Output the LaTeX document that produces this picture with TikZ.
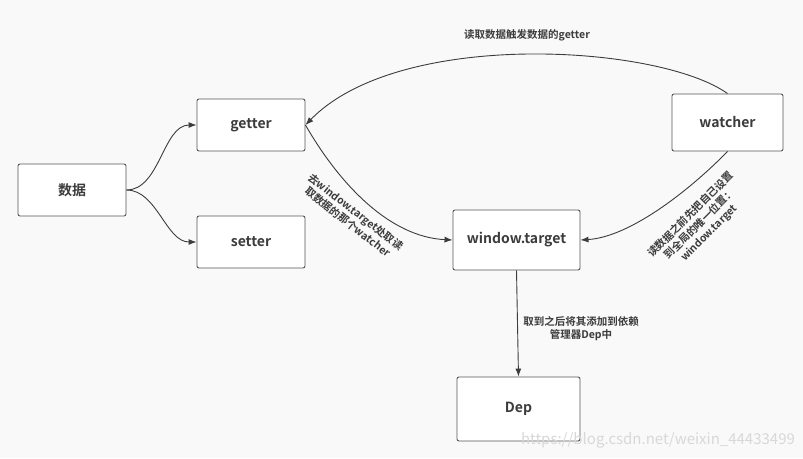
\documentclass[tikz,border=0pt]{standalone}
\usepackage{fontspec}
\setmainfont{Noto Sans CJK SC}[BoldFont={Noto Sans CJK SC Bold}]
\usetikzlibrary{arrows.meta}
\definecolor{bg}{HTML}{F9F9F9}
\definecolor{ink}{HTML}{3C3C3C}
\definecolor{edge}{HTML}{555555}
\definecolor{wm}{HTML}{D8D8D8}
\tikzset{
  box/.style={draw=edge, fill=white, line width=0.9pt, rounded corners=2pt,
    font=\bfseries\fontsize{14}{16}\selectfont, text=ink, inner sep=0pt},
  conn/.style={draw=ink, line width=0.9pt, -{Latex[length=8pt,width=6pt]}},
  lbl/.style={font=\bfseries\fontsize{10.5}{13}\selectfont, text=ink, align=center, inner sep=0pt},
}
\begin{document}
\begin{tikzpicture}[x=1pt,y=-1pt]
\fill[bg] (0,0) rectangle (803,458);
\useasboundingbox (0,0) rectangle (803,458);
\node[box, minimum width=108pt, minimum height=52pt] (data) at (72,190) {数据};
\node[box, minimum width=108pt, minimum height=52pt] (getter) at (251,125) {getter};
\node[box, minimum width=108pt, minimum height=52pt] (setter) at (251,242) {setter};
\node[box, minimum width=127pt, minimum height=60pt] (wt) at (516.5,240) {window.target};
\node[box, minimum width=111pt, minimum height=57pt] (watcher) at (727.5,122.5) {watcher};
\node[box, minimum width=123pt, minimum height=64pt] (dep) at (518.5,409) {Dep};

\draw[conn] (data.east) to[out=0,in=180,looseness=0.9] (getter.west);
\draw[conn] (data.east) to[out=0,in=180,looseness=0.9] (setter.west);
\draw[conn] (watcher.north) .. controls (660,45) and (400,28) .. (getter.east);
\draw[conn] (getter.east) .. controls (340,185) and (390,237) .. (wt.west);
\draw[conn] (watcher.south) .. controls (690,190) and (630,237) .. (wt.east);
\draw[conn] (wt.south) -- (dep.north);

\node[lbl] (l1) at (527,35) {读取数据触发数据的getter};
\node[lbl, rotate=-38] (l2) at (352,217) {去window.target处取读\\取数据的那个watcher};
\node[lbl, rotate=45] (l3) at (700,224) {读数据之前先把自己设置\\到全局的唯一位置：\\window.target};
\node[lbl] (l4) at (581,329) {取到之后将其添加到依赖\\管理器Dep中};
\node[font=\fontsize{15}{17}\selectfont, text=wm, inner sep=0pt] (wmk) at (658,440) {https://blog.csdn.net/weixin\_44433499};
\end{tikzpicture}
\end{document}
